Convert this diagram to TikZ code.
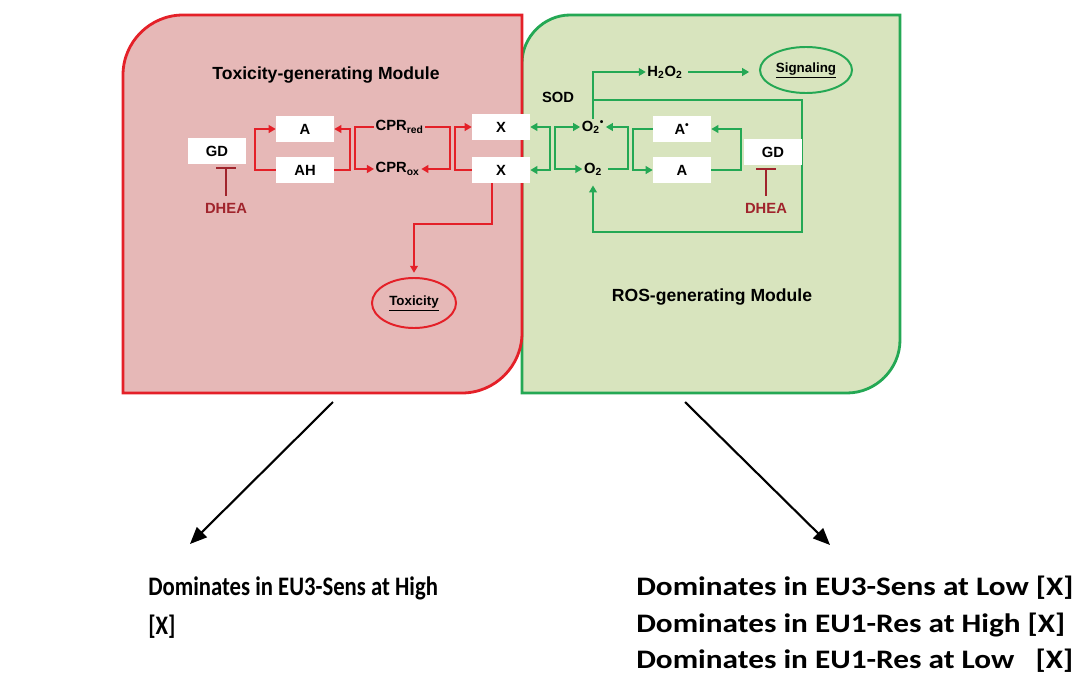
\documentclass[tikz,border=0pt]{standalone}
\usepackage{fontspec}
\setmainfont{Liberation Sans}
\newfontfamily\narrowCalibri{Carlito}[FakeStretch=0.85]
\newfontfamily\wideCalibri{Carlito}[FakeStretch=1.17]
\usetikzlibrary{arrows.meta,shapes.geometric,calc,backgrounds,positioning}

\definecolor{redFill}{RGB}{230,184,183}
\definecolor{greenFill}{RGB}{216,228,190}
\definecolor{redLine}{RGB}{228,32,40}
\definecolor{greenLine}{RGB}{36,168,84}
\definecolor{dheaRed}{RGB}{160,36,44}

\tikzset{
  box/.style={fill=white, minimum width=1.45cm, minimum height=0.65cm, inner sep=0pt, font=\bfseries\fontsize{10.5}{12}\selectfont},
  species/.style={inner sep=1pt, font=\bfseries\fontsize{10.5}{12}\selectfont},
  dhea/.style={inner sep=1pt, text=dheaRed, font=\bfseries\fontsize{10.5}{12}\selectfont},
  redArrow/.style={draw=redLine, line width=1.4pt, -{Triangle[length=5pt,width=5.5pt]}},
  greenArrow/.style={draw=greenLine, line width=1.4pt, -{Triangle[length=5pt,width=5.5pt]}},
  greenBoth/.style={greenArrow, {Triangle[length=5pt,width=5.5pt]}-{Triangle[length=5pt,width=5.5pt]}},
  inhibit/.style={draw=dheaRed, line width=1.6pt, -{Bar[width=14pt]}, shorten >=2pt, shorten <=4pt},
  outcome/.style={ellipse, line width=1.4pt, inner sep=0pt, font=\bfseries\fontsize{9.5}{11}\selectfont},
  title/.style={font=\bfseries\fontsize{12.5}{14}\selectfont},
  bigArrow/.style={draw=black, line width=1.5pt, -{Triangle[length=12pt,width=10pt]}},
  summary/.style={align=left, inner sep=0pt}
}

\begin{document}
\begin{tikzpicture}[x=0.025cm, y=-0.025cm]
\useasboundingbox (0,0) rectangle (1086,677);

% the two modules
\begin{scope}[on background layer]
\draw[draw=greenLine, fill=greenFill, line width=2pt] (522,393) -- (522,63) .. controls (522,37) and (544,15) .. (570,15) -- (900,15) -- (900,340) .. controls (900,369) and (876,393) .. (847,393) -- cycle;
\draw[draw=redLine, fill=redFill, line width=2pt] (123,393) -- (123,75) .. controls (123,42) and (150,15) .. (183,15) -- (522,15) -- (522,333) .. controls (522,366) and (495,393) .. (462,393) -- cycle;
\end{scope}

% toxicity-generating module
\node[title] (toxTitle) at (326,75) {Toxicity-generating Module};
\node[box] (gdLeft) at (217,151) {GD};
\node[box] (aLeft) at (305,129) {A};
\node[box, below of=aLeft, node distance=1.025cm] (ahLeft) {AH};
\node[species, anchor=west] (cprRed) at (374,127) {CPR\textsubscript{red}};
\node[species, anchor=west] (cprOx) at (374,169) {CPR\textsubscript{ox}};
\node[box] (xTop) at (501,127) {X};
\node[box, below of=xTop, node distance=1.075cm] (xBottom) {X};
\node[dhea] (dheaLeft) at (226,208) {DHEA};
\node[outcome, draw=redLine, minimum width=2.1cm, minimum height=1.25cm] (toxicity) at (414,303) {\underline{Toxicity}};

\draw[redArrow] (ahLeft.west) -- ++(-21,0) |- (aLeft.west);
\draw[redArrow] (ahLeft.east) -- ++(16,0) |- (aLeft.east);
\draw[redArrow] (cprRed.west) -| ($(aLeft.east)+(21,0)$) |- (cprOx.west);
\draw[redArrow] (cprRed.east) -| ($(xTop.west)+(-22,0)$) |- (cprOx.east);
\draw[redArrow] (xBottom.west) -- ++(-17,0) |- (xTop.west);
\draw[redArrow, shorten >=3pt] ($(xBottom.south)+(-9,0)$) -- ++(0,41) -| (toxicity.north);
\draw[inhibit] (dheaLeft.north) -- (dheaLeft.north |- gdLeft.south);

% ROS-generating module
\node[species] (sod) at (558,97) {SOD};
\node[species] (oRad) at (593,127) {O\textsubscript{2}\textsuperscript{•}};
\node[species, below of=oRad, node distance=1.05cm] (oTwo) {O\textsubscript{2}};
\node[box] (aRad) at (682,129) {A\textsuperscript{•}};
\node[box, below of=aRad, node distance=1.025cm] (aRight) {A};
\node[box, minimum height=0.625cm] (gdRight) at (773,152) {GD};
\node[dhea] (dheaRight) at (766,208) {DHEA};
\node[species] (hTwoOTwo) at (665,72) {H\textsubscript{2}O\textsubscript{2}};
\node[outcome, draw=greenLine, minimum width=2.3cm, minimum height=1.15cm] (signaling) at (806,70) {\underline{Signaling}};
\node[title] (rosTitle) at (712,297) {ROS-generating Module};

\draw[greenBoth] (xTop.east) -- ++(20,0) |- (xBottom.east);
\draw[greenBoth] (oRad.west) -| ($(xTop.east)+(25,0)$) |- (oTwo.west);
\draw[greenArrow, shorten <=3pt] (oTwo.east) -- ++(24,0) |- (oRad.east);
\draw[greenArrow] (aRad.west) -- ++(-20,0) |- (aRight.west);
\draw[greenArrow] (aRight.east) -- ++(30,0) |- (aRad.east);
\draw[inhibit] (dheaRight.north) -- (dheaRight.north |- gdRight.south);
\draw[greenArrow] (oRad.north) |- (hTwoOTwo.west);
\draw[greenArrow, shorten <=3pt, shorten >=7pt] (hTwoOTwo.east) -- (hTwoOTwo.east -| signaling.west);
\begin{scope}[on background layer]
\coordinate (loopStart) at (593,100);
\draw[greenArrow, shorten >=6pt] (loopStart) -| (gdRight.east) -- ++(0,80) -| (oTwo.south);
\end{scope}

% where each module dominates
\coordinate (toxFoot) at (333,402);
\coordinate (toxTip) at (190,544);
\coordinate (rosFoot) at (685,402);
\coordinate (rosTip) at (830,545);
\draw[bigArrow] (toxFoot) -- (toxTip);
\draw[bigArrow] (rosFoot) -- (rosTip);
\node[summary, anchor=north west, font=\narrowCalibri\bfseries\fontsize{19}{28}\selectfont] (toxSummary) at (148,576) {Dominates in EU3-Sens at High\\{[X]}};
\node[summary, anchor=north west, font=\wideCalibri\bfseries\fontsize{19}{26}\selectfont] (rosSummary) at (636,576) {Dominates in EU3-Sens at Low [X]\\Dominates in EU1-Res at High [X]\\Dominates in EU1-Res at Low\ \ \ [X]};
\end{tikzpicture}
\end{document}
